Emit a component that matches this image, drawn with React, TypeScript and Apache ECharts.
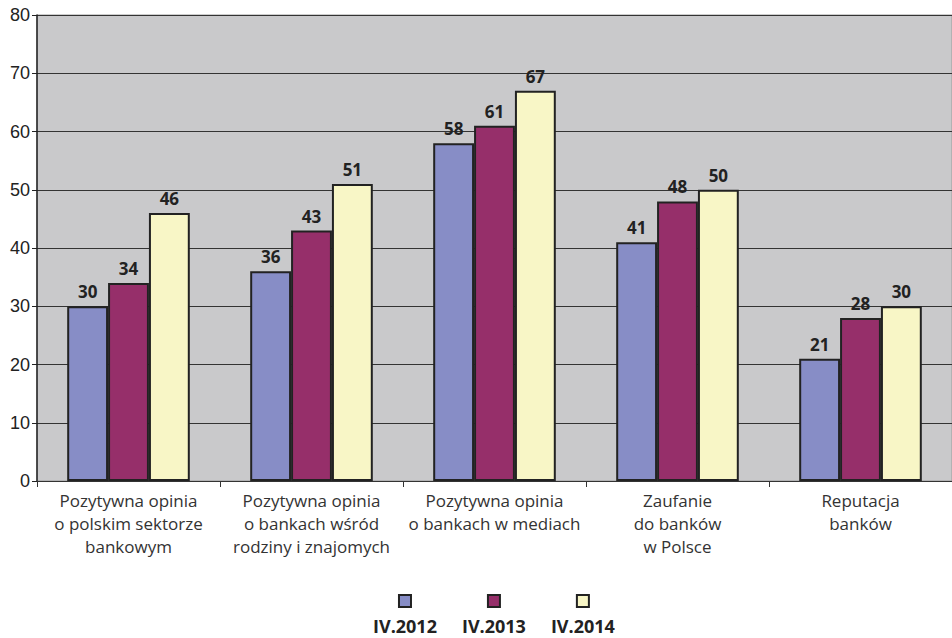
import React, { useEffect, useRef } from "react";
import * as echarts from "echarts";

const categories = [
  "Pozytywna opinia\no polskim sektorze\nbankowym",
  "Pozytywna opinia\no bankach wśród\nrodziny i znajomych",
  "Pozytywna opinia\no bankach w mediach",
  "Zaufanie\ndo banków\nw Polsce",
  "Reputacja\nbanków",
];
const seriesNames = ["IV.2012", "IV.2013", "IV.2014"];
const values2012 = [30, 36, 58, 41, 21];
const values2013 = [34, 43, 61, 48, 28];
const values2014 = [46, 51, 67, 50, 30];
const yTicks = { min: 0, max: 80, interval: 10 };
const colors = ["#878dc6", "#962f6a", "#f8f6c6"];

export default function App() {
  const ref = useRef<HTMLDivElement>(null);
  useEffect(() => {
    const chart = echarts.init(ref.current!, null, { renderer: "svg" });
    const dataSets = [values2012, values2013, values2014];
    const labelFont = "'Source Sans Pro', 'Open Sans', 'Noto Sans', sans-serif";
    chart.setOption({
      animation: false,
      grid: {
        left: 37,
        right: 0,
        top: 15,
        bottom: 157,
        show: true,
        backgroundColor: "#c9c9cb",
        borderColor: "#9a9a9a",
        borderWidth: 1,
      },
      legend: {
        top: 589,
        left: 362,
        itemWidth: 0,
        itemHeight: 0,
        icon: "rect",
        itemGap: 19,
        data: seriesNames,
        formatter: (name: string) => {
          const i = seriesNames.indexOf(name);
          return `{s${i}|}\n{t|${name}}`;
        },
        textStyle: {
          rich: {
            s0: { width: 10, height: 10, backgroundColor: colors[0], borderColor: "#222", borderWidth: 2, align: "center" },
            s1: { width: 10, height: 10, backgroundColor: colors[1], borderColor: "#222", borderWidth: 2, align: "center" },
            s2: { width: 10, height: 10, backgroundColor: colors[2], borderColor: "#222", borderWidth: 2, align: "center" },
            t: {
              fontSize: 18,
              fontWeight: "bold",
              color: "#222",
              fontFamily: labelFont,
              align: "center",
              padding: [11, 0, 0, 0],
            },
          },
        },
      },
      xAxis: {
        type: "category",
        data: categories,
        axisLine: { lineStyle: { color: "#333", width: 1 } },
        axisTick: { show: true, length: 6, lineStyle: { color: "#333" } },
        axisLabel: {
          color: "#333",
          fontSize: 17,
          lineHeight: 23,
          margin: 8,
          fontFamily: labelFont,
          interval: 0,
        },
      },
      yAxis: {
        type: "value",
        min: yTicks.min,
        max: yTicks.max,
        interval: yTicks.interval,
        axisLine: { show: true, lineStyle: { color: "#222", width: 1.5 } },
        axisTick: { show: true, length: 5, lineStyle: { color: "#222" } },
        axisLabel: {
          color: "#222",
          fontSize: 18,
          margin: 7,
          fontFamily: "'Liberation Sans', Arial, sans-serif",
        },
        splitLine: { show: true, lineStyle: { color: "#333", width: 1 } },
      },
      series: dataSets.map((d, i) => ({
        type: "bar",
        name: seriesNames[i],
        data: d,
        barGap: "0%",
        barCategoryGap: "33%",
        itemStyle: { color: colors[i], borderColor: "#222", borderWidth: 2 },
        label: {
          show: true,
          position: "top",
          distance: 6,
          color: "#222",
          fontSize: 17,
          fontWeight: "bold",
          fontFamily: labelFont,
        },
      })),
    });
    return () => chart.dispose();
  }, []);
  return <div ref={ref} style={{ width: 952, height: 638, position: "absolute", left: 0, top: 0 }} />;
}
